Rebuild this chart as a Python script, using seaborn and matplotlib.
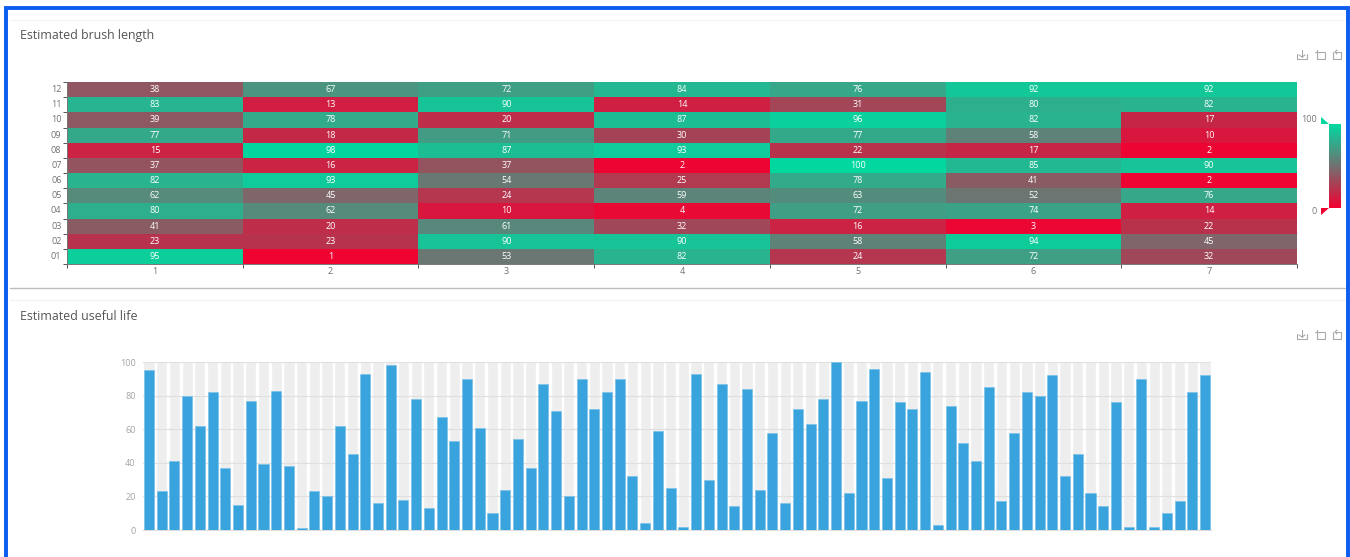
import matplotlib
matplotlib.use("Agg")
import matplotlib.pyplot as plt
from matplotlib.colors import LinearSegmentedColormap
from matplotlib.patches import Polygon, Rectangle
from matplotlib.lines import Line2D
import numpy as np
import pandas as pd
import seaborn as sns

W, H = 1350, 557

rows = ["12", "11", "10", "09", "08", "07", "06", "05", "04", "03", "02", "01"]
cols = ["1", "2", "3", "4", "5", "6", "7"]
brush_length = [
    [38, 67, 72, 84, 76, 92, 92],
    [83, 13, 90, 14, 31, 80, 82],
    [39, 78, 20, 87, 96, 82, 17],
    [77, 18, 71, 30, 77, 58, 10],
    [15, 98, 87, 93, 22, 17, 2],
    [37, 16, 37, 2, 100, 85, 90],
    [82, 93, 54, 25, 78, 41, 2],
    [62, 45, 24, 59, 63, 52, 76],
    [80, 62, 10, 4, 72, 74, 14],
    [41, 20, 61, 32, 16, 3, 22],
    [23, 23, 90, 90, 58, 94, 45],
    [95, 1, 53, 82, 24, 72, 32],
]
useful_life = [
    95, 23, 41, 80, 62, 82, 37, 15, 77, 39, 83, 38,
    1, 23, 20, 62, 45, 93, 16, 98, 18, 78, 13, 67,
    53, 90, 61, 10, 24, 54, 37, 87, 71, 20, 90, 72,
    82, 90, 32, 4, 59, 25, 2, 93, 30, 87, 14, 84,
    24, 58, 16, 72, 63, 78, 100, 22, 77, 96, 31, 76,
    72, 94, 3, 74, 52, 41, 85, 17, 58, 82, 80, 92,
    32, 45, 22, 14, 76, 2, 90, 2, 10, 17, 82, 92,
]
life_max = [100] * len(useful_life)
life_ticks = [0, 20, 40, 60, 80, 100]

sns.set_theme(style="white")
plt.rcParams["font.family"] = ["Open Sans", "DejaVu Sans"]


def px_axes(fig, x0, y0, x1, y1):
    # pixel box, y measured from the top of the image
    return fig.add_axes([x0 / W, 1 - y1 / H, (x1 - x0) / W, (y1 - y0) / H])


def fx(x):
    return x / W


def fy(y):
    return 1 - y / H


def px_line(fig, xs, ys, color="#a9a9a9", lw=0.8):
    fig.add_artist(Line2D([fx(x) for x in xs], [fy(y) for y in ys], color=color, lw=lw))


def toolbox(fig, y):
    # download, zoom and restore icons at the top right of each card
    px_line(fig, [1297, 1297, 1307, 1307], [y - 1, y + 4, y + 4, y - 1])
    px_line(fig, [1302, 1302], [y - 5, y + 2])
    px_line(fig, [1299, 1302, 1305], [y, y + 2, y])
    px_line(fig, [1315, 1317, 1317, 1325, 1325], [y - 3, y - 3, y + 4, y + 4, y - 3])
    px_line(fig, [1317, 1317, 1324], [y - 5, y - 3, y - 3])
    px_line(fig, [1333, 1333, 1341, 1341, 1335], [y - 3, y + 4, y + 4, y - 3, y - 3])
    px_line(fig, [1337, 1335, 1337], [y - 5, y - 3, y - 1])


fig = plt.figure(figsize=(W / 100, H / 100), dpi=100, facecolor="white")

# outer frame and card separators
fig.add_artist(Rectangle((fx(6), fy(560)), 1341.5 / W, 552 / H, fill=False,
                         edgecolor="#0b5cf0", lw=2.8, transform=fig.transFigure))
px_line(fig, [10, 1345], [20, 20], color="#f4f4f4", lw=0.8)
px_line(fig, [10, 1345], [288, 288], color="#bdbdbd", lw=1.0)
px_line(fig, [10, 1345], [300, 300], color="#f1f1f1", lw=0.8)

fig.text(fx(20), fy(36), "Estimated brush length", fontsize=8.9, color="#555555", va="center")
fig.text(fx(20), fy(316), "Estimated useful life", fontsize=8.9, color="#555555", va="center")
toolbox(fig, 55)
toolbox(fig, 335)

# heatmap
cmap = LinearSegmentedColormap.from_list("rg", ["#f20030", "#717170", "#00d8a0"])
df = pd.DataFrame(brush_length, index=rows, columns=cols)
ax1 = px_axes(fig, 67, 82, 1297, 264)
cax = px_axes(fig, 1329, 124, 1341, 208)
sns.heatmap(df, ax=ax1, cmap=cmap, vmin=0, vmax=100, annot=True, fmt="d",
            annot_kws={"fontsize": 6.5, "color": "white"}, cbar_ax=cax,
            cbar_kws={"ticks": [], "drawedges": False}, linewidths=0,
            xticklabels=True, yticklabels=True)
ax1.tick_params(axis="y", which="major", length=0, labelsize=6.5, labelcolor="#707070", pad=4,
                labelrotation=0)
ax1.tick_params(axis="x", which="major", length=0, labelsize=6.5, labelcolor="#707070", pad=2.5,
                labelrotation=0)
ax1.set_xticks(np.arange(len(cols) + 1), minor=True)
ax1.set_yticks(np.arange(len(rows) + 1), minor=True)
ax1.tick_params(axis="both", which="minor", length=3, width=0.7, color="#555555",
                bottom=True, left=True)
for side in ["left", "bottom"]:
    ax1.spines[side].set_visible(True)
    ax1.spines[side].set_color("#777777")
    ax1.spines[side].set_linewidth(0.7)
ax1.set_xlabel("")
ax1.set_ylabel("")
ax1.collections[0].colorbar.outline.set_visible(False)

# colour legend labels and handles
fig.text(fx(1317), fy(119), "100", fontsize=6.5, color="#777777", ha="right", va="center")
fig.text(fx(1317), fy(211), "0", fontsize=6.5, color="#777777", ha="right", va="center")
fig.add_artist(Polygon([[fx(1321), fy(117)], [fx(1321), fy(124)], [fx(1329), fy(124)]],
                       color="#00d8a0", lw=0, transform=fig.transFigure))
fig.add_artist(Polygon([[fx(1321), fy(215)], [fx(1321), fy(208)], [fx(1329), fy(208)]],
                       color="#f20030", lw=0, transform=fig.transFigure))

# bars
ax2 = px_axes(fig, 142.6, 362, 1211.4, 530)
pos = list(range(len(useful_life)))
sns.barplot(x=pos, y=life_max, ax=ax2, color="#eeeeee", width=0.88, saturation=1, zorder=1)
sns.barplot(x=pos, y=useful_life, ax=ax2, color="#38a3dd", width=0.79, saturation=1, zorder=3,
            edgecolor="#7cc3ea", linewidth=0.5)
ax2.set_xlim(-0.5, len(pos) - 0.5)
ax2.set_ylim(0, 100)
ax2.set_yticks(life_ticks)
ax2.set_xticks([])
ax2.set_axisbelow(False)
ax2.yaxis.grid(True, color="#e0e0e0", lw=0.9, zorder=2)
for line in ax2.get_ygridlines():
    line.set_zorder(2)
ax2.tick_params(axis="y", length=0, labelsize=6.5, labelcolor="#a3a3a3", pad=5)
for side in ["left", "right", "top"]:
    ax2.spines[side].set_visible(False)
ax2.spines["bottom"].set_color("#dddddd")
ax2.spines["bottom"].set_linewidth(0.8)
ax2.patch.set_visible(False)

fig.savefig("out.png", dpi=100, facecolor="white")
